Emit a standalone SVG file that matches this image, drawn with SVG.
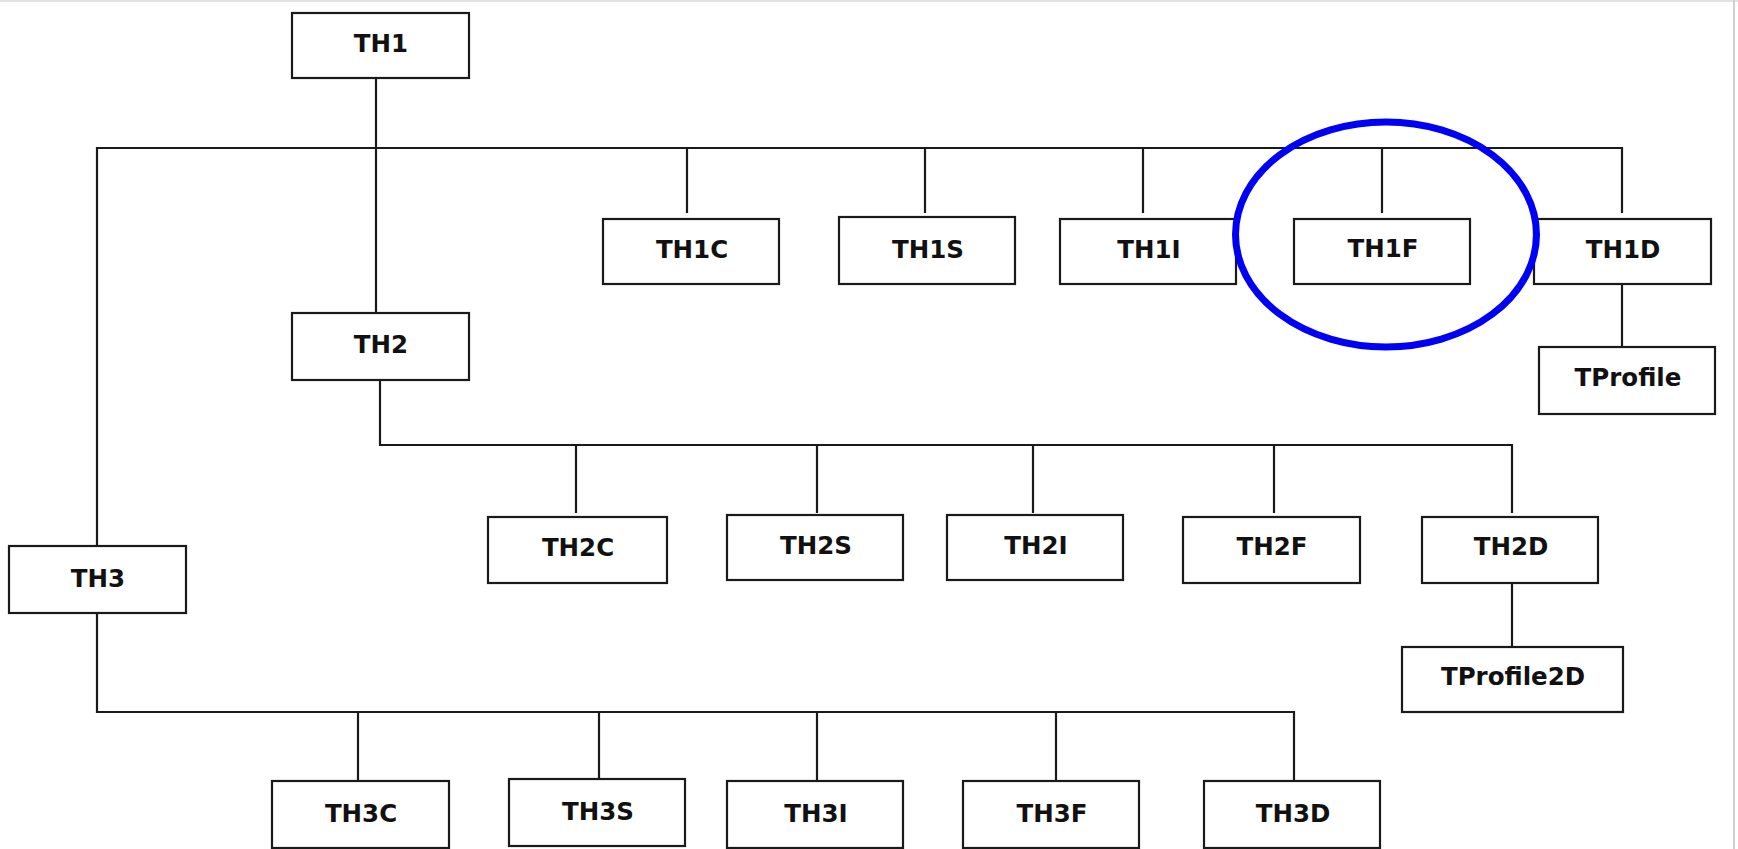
<svg xmlns="http://www.w3.org/2000/svg" width="1738" height="849" viewBox="0 0 1738 849">
<style>
.box{fill:#fff;stroke:#1a1a1a;stroke-width:2.2}
.lbl{font-family:"DejaVu Sans",Verdana,sans-serif;font-weight:bold;font-size:24.5px;fill:#111;text-anchor:middle}
.con{fill:none;stroke:#1a1a1a;stroke-width:2.2}
</style>
<rect x="0" y="0" width="1738" height="849" fill="#fff"/>
<line x1="0" y1="1" x2="1738" y2="1" stroke="#e2e2e2" stroke-width="2"/>
<line x1="1734" y1="0" x2="1734" y2="849" stroke="#d0d0d0" stroke-width="2"/>
<g id="connectors">
<path class="con" d="M376,78 V313"/>
<path class="con" d="M97,546 V148 H1622 V213"/>
<path class="con" d="M687,148 V213 M925,148 V213 M1143,148 V213 M1382,148 V213"/>
<path class="con" d="M1622,280 V347"/>
<path class="con" d="M380,380 V445 H1512 V513"/>
<path class="con" d="M576,445 V513 M817,445 V513 M1033,445 V513 M1274,445 V513"/>
<path class="con" d="M1512,579 V647"/>
<path class="con" d="M97,613 V712 H1294 V781"/>
<path class="con" d="M358,712 V781 M599,712 V779 M817,712 V781 M1056,712 V781"/>
</g>
<g id="TH1"><rect class="box" x="292" y="13" width="177" height="65"/><text class="lbl" x="381" y="52">TH1</text></g>
<g id="TH2"><rect class="box" x="292" y="313" width="177" height="67"/><text class="lbl" x="381" y="353">TH2</text></g>
<g id="TH3"><rect class="box" x="9" y="546" width="177" height="67"/><text class="lbl" x="98" y="587">TH3</text></g>
<g id="TH1C"><rect class="box" x="603" y="219" width="176" height="65"/><text class="lbl" x="692" y="258">TH1C</text></g>
<g id="TH1S"><rect class="box" x="839" y="217" width="176" height="67"/><text class="lbl" x="928" y="258">TH1S</text></g>
<g id="TH1I"><rect class="box" x="1060" y="219" width="176" height="65"/><text class="lbl" x="1149" y="258">TH1I</text></g>
<g id="TH1F"><rect class="box" x="1294" y="219" width="176" height="65"/><text class="lbl" x="1383" y="257">TH1F</text></g>
<g id="TH1D"><rect class="box" x="1534" y="219" width="177" height="65"/><text class="lbl" x="1623" y="258">TH1D</text></g>
<g id="TProfile"><rect class="box" x="1539" y="347" width="176" height="67"/><text class="lbl" x="1628" y="386">TProfile</text></g>
<g id="TH2C"><rect class="box" x="488" y="517" width="179" height="66"/><text class="lbl" x="578" y="555.5">TH2C</text></g>
<g id="TH2S"><rect class="box" x="727" y="515" width="176" height="65"/><text class="lbl" x="816" y="553.5">TH2S</text></g>
<g id="TH2I"><rect class="box" x="947" y="515" width="176" height="65"/><text class="lbl" x="1036" y="553.5">TH2I</text></g>
<g id="TH2F"><rect class="box" x="1183" y="517" width="177" height="66"/><text class="lbl" x="1272" y="555">TH2F</text></g>
<g id="TH2D"><rect class="box" x="1422" y="517" width="176" height="66"/><text class="lbl" x="1511" y="555">TH2D</text></g>
<g id="TProfile2D"><rect class="box" x="1402" y="647" width="221" height="65"/><text class="lbl" x="1513" y="685">TProfile2D</text></g>
<g id="TH3C"><rect class="box" x="272" y="781" width="177" height="67"/><text class="lbl" x="361" y="822">TH3C</text></g>
<g id="TH3S"><rect class="box" x="509" y="779" width="176" height="67"/><text class="lbl" x="598" y="820">TH3S</text></g>
<g id="TH3I"><rect class="box" x="727" y="781" width="176" height="67"/><text class="lbl" x="816" y="822">TH3I</text></g>
<g id="TH3F"><rect class="box" x="963" y="781" width="176" height="67"/><text class="lbl" x="1052" y="822">TH3F</text></g>
<g id="TH3D"><rect class="box" x="1204" y="781" width="176" height="67"/><text class="lbl" x="1293" y="822">TH3D</text></g>
<g id="highlight"><ellipse cx="1386" cy="234.5" rx="150.5" ry="112.5" fill="none" stroke="#0000f5" stroke-width="7"/></g>
</svg>
